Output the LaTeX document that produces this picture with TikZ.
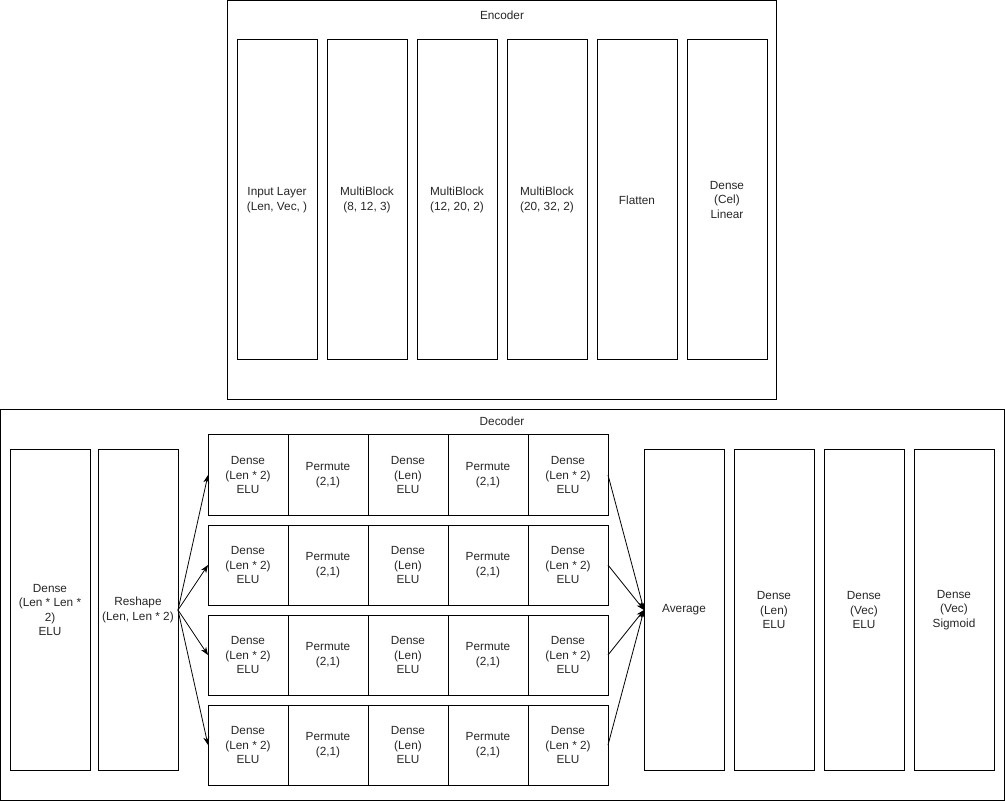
\documentclass[tikz,border=0pt]{standalone}
\usepackage{fontspec}
\setmainfont{Liberation Sans}
\usetikzlibrary{arrows.meta}

\begin{document}
\begin{tikzpicture}[x=1pt,y=-1pt,line width=1pt,
  txt/.style={font=\fontsize{11.8}{14.5}\selectfont,align=center,text=black!85},
  layer/.style={txt,draw,rectangle,inner sep=0pt,outer sep=0pt,minimum width=80pt,minimum height=320pt},
  cell/.style={txt,draw,rectangle,inner sep=0pt,outer sep=0pt,minimum width=80pt,minimum height=80pt},
  flow/.style={-{Stealth[length=8pt,width=6pt]},line width=0.8pt}]
\useasboundingbox (0,0) rectangle (1005,802);

% encoder
\draw (227.5,0.5) rectangle (776.5,400);
\node[txt] (enctitle) at (502,15) {Encoder};
\node[layer] (inp) at (277,200) {Input Layer\\(Len, Vec, )};
\node[layer] (mb1) at (367,200) {MultiBlock\\(8, 12, 3)};
\node[layer] (mb2) at (457,200) {MultiBlock\\(12, 20, 2)};
\node[layer] (mb3) at (547,200) {MultiBlock\\(20, 32, 2)};
\node[layer] (flat) at (637,200) {Flatten};
\node[layer] (cel) at (727,200) {Dense\\(Cel)\\Linear};

% decoder
\draw (0.5,409.5) rectangle (1004,800.5);
\node[txt] (dectitle) at (502,421) {Decoder};
\node[layer] (dlen) at (50,610) {Dense\\(Len * Len *\\2)\\ELU};
\node[layer] (reshape) at (138,610) {Reshape\\(Len, Len * 2)};
\foreach \r/\yy in {1/475,2/565,3/655,4/745}{
  \node[cell] (da-\r) at (248,\yy) {Dense\\(Len * 2)\\ELU};
  \node[cell] (pa-\r) at (328,\yy) {Permute\\(2,1)};
  \node[cell] (db-\r) at (408,\yy) {Dense\\(Len)\\ELU};
  \node[cell] (pb-\r) at (488,\yy) {Permute\\(2,1)};
  \node[cell] (dc-\r) at (568,\yy) {Dense\\(Len * 2)\\ELU};
}
\node[layer] (avg) at (684,610) {Average};
\node[layer] (dout1) at (774,610) {Dense\\(Len)\\ELU};
\node[layer] (dout2) at (864,610) {Dense\\(Vec)\\ELU};
\node[layer] (dout3) at (954,610) {Dense\\(Vec)\\Sigmoid};

\foreach \r in {1,...,4}{
  \draw[flow] (reshape.east) -- (da-\r.west);
  \draw[flow] (dc-\r.east) -- (avg.west);
}
\end{tikzpicture}
\end{document}
